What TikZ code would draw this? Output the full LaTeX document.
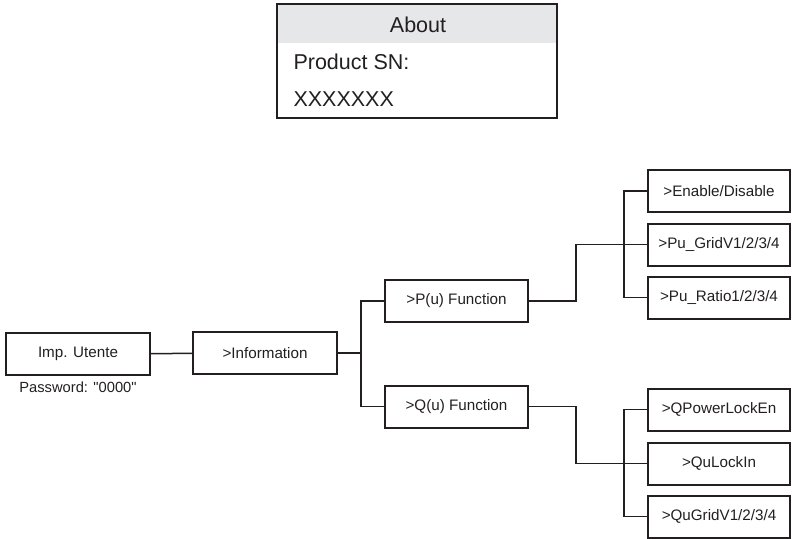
\documentclass[tikz,border=0pt]{standalone}
\usepackage{fontspec}
\setmainfont{Liberation Sans}[Ligatures=TeXOff]
\usepackage{tikz}
\usetikzlibrary{positioning}

\definecolor{headgray}{HTML}{E6E7E8}
\definecolor{inkgray}{HTML}{231F20}

\tikzset{
    menubox/.style={draw=inkgray, line width=2pt, minimum height=42pt, inner sep=0pt,
        text=inkgray, font=\fontsize{15.2}{17}\selectfont},
    wire/.style={draw=inkgray, line width=1.5pt}
}

\begin{document}
\begin{tikzpicture}[x=1pt, y=-1pt]
            \useasboundingbox (0,0) rectangle (792,538);

            % Draw the "About" screen
            \fill[headgray] (277,4) rectangle (557,43);
            \draw[inkgray, line width=1.6pt] (277,4) rectangle (557,118);
            \node[text=inkgray, font=\fontsize{21.5}{24}\selectfont] (about) at (418,25) {About};
            \node[text=inkgray, font=\fontsize{21.5}{24}\selectfont, anchor=west] (sn) at (290,62) {Product SN:};
            \node[text=inkgray, font=\fontsize{21.5}{24}\selectfont, anchor=west] (xx) at (290,99) {XXXXXXX};

            % Draw the menu tree
            \node[menubox, minimum width=144pt] (imp) at (78,354) {Imp. Utente};
            \node[text=inkgray, font=\fontsize{14.7}{16}\selectfont, below=2pt of imp] (pwd) {Password: "0000"};
            \node[menubox, minimum width=144pt] (info) at (265,353) {>Information};

            \node[menubox, minimum width=143pt] (pu) at (456.5,301) {>P(u) Function};
            \node[menubox, minimum width=143pt] (qu) at (456.5,406.5) {>Q(u) Function};

            \node[menubox, minimum width=142pt] (enable) at (719,191) {>Enable/Disable};
            \node[menubox, minimum width=142pt] (gridv) at (719,244.5) {>Pu\_GridV1/2/3/4};
            \node[menubox, minimum width=142pt] (ratio) at (719,297.5) {>Pu\_Ratio1/2/3/4};

            \node[menubox, minimum width=142pt] (qpower) at (719,409.5) {>QPowerLockEn};
            \node[menubox, minimum width=142pt] (qulock) at (719,463.5) {>QuLockIn};
            \node[menubox, minimum width=142pt] (qugrid) at (719,516.5) {>QuGridV1/2/3/4};

            % Connectors
            \draw[wire] (imp) -- (info);
            \draw[wire] (info.east) -- ++(23,0) |- (pu.west);
            \draw[wire] (info.east) ++(23,0) |- (qu.west);

            \draw[wire] (pu.east) -- ++(47,0) |- (gridv.west);
            \draw[wire] (enable.west) -- ++(-23,0) |- (ratio.west);

            \draw[wire] (qu.east) -- ++(47,0) |- (qulock.west);
            \draw[wire] (qpower.west) -- ++(-23,0) |- (qugrid.west);
        \end{tikzpicture}
\end{document}
